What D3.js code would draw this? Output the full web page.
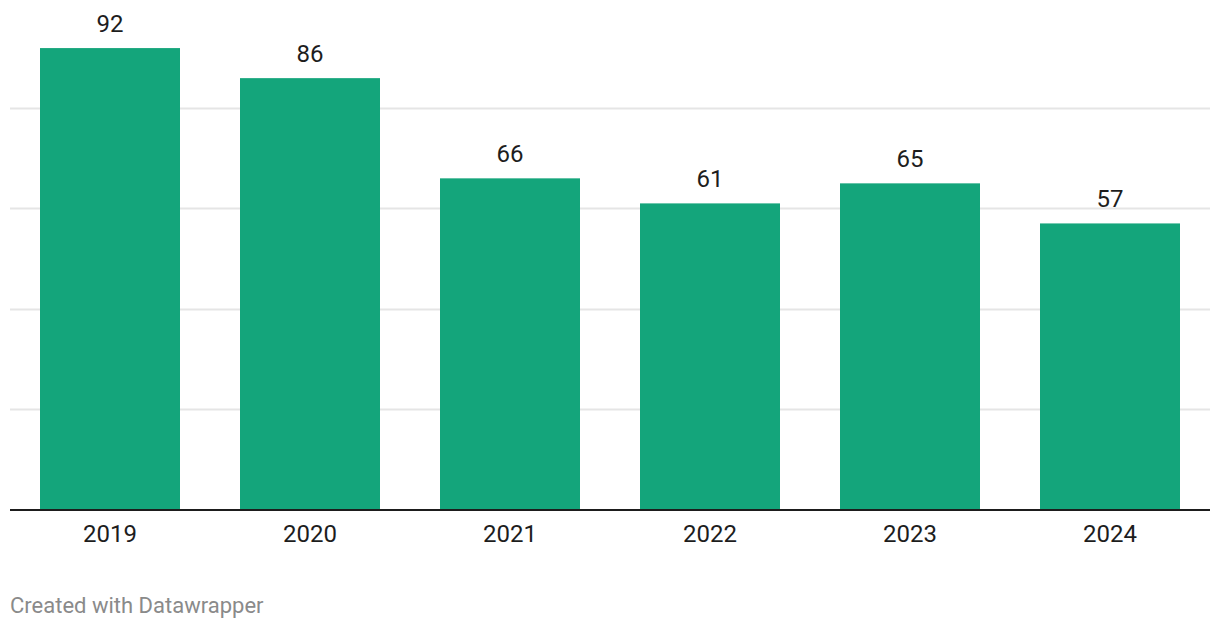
<!DOCTYPE html>
<html>
<head>
<meta charset="utf-8">
<script src="https://cdn.jsdelivr.net/npm/d3@7"></script>
<style>
  html, body { margin: 0; padding: 0; background: #fff; }
  svg { display: block; font-family: Roboto, "Noto Sans", sans-serif; }
</style>
</head>
<body>
<svg id="chart" width="1220" height="630"></svg>
<script>
const categories = ["2019", "2020", "2021", "2022", "2023", "2024"];
const values = [92, 86, 66, 61, 65, 57];
const gridTicks = [20, 40, 60, 80];
const footerText = "Created with Datawrapper";

const svg = d3.select("#chart");
const left = 10, right = 1210, baseY = 509, topY = 8;

const x = d3.scaleBand().domain(categories).range([left, right]).paddingInner(0.3).paddingOuter(0.15);
const y = d3.scaleLinear().domain([0, 100]).range([baseY, topY]);

// gridlines
svg.append("g").selectAll("line").data(gridTicks).join("line")
  .attr("x1", left).attr("x2", right)
  .attr("y1", d => Math.round(y(d)) + 0.5).attr("y2", d => Math.round(y(d)) + 0.5)
  .attr("stroke", "#e5e5e5").attr("stroke-width", 2);

// bars
svg.append("g").selectAll("rect").data(values).join("rect")
  .attr("x", (d, i) => x(categories[i]))
  .attr("width", x.bandwidth())
  .attr("y", d => y(d))
  .attr("height", d => y(0) - y(d))
  .attr("fill", "#14a57b");

// value labels
svg.append("g").selectAll("text").data(values).join("text")
  .attr("x", (d, i) => x(categories[i]) + x.bandwidth() / 2)
  .attr("y", d => y(d) - 16)
  .attr("text-anchor", "middle")
  .attr("font-size", 24)
  .attr("fill", "#1d1d1d")
  .text(d => d);

// baseline
svg.append("line")
  .attr("x1", left).attr("x2", right)
  .attr("y1", baseY + 1).attr("y2", baseY + 1)
  .attr("stroke", "#1d1d1d").attr("stroke-width", 2);

// x axis labels
const xAxis = d3.axisBottom(x).tickSize(0).tickPadding(0);
const gx = svg.append("g").attr("transform", `translate(0,${baseY})`).call(xAxis);
gx.select(".domain").remove();
gx.selectAll("text")
  .attr("dy", null)
  .attr("y", 33)
  .attr("font-size", 24)
  .attr("font-family", "Roboto, sans-serif")
  .attr("fill", "#1d1d1d");

// footer
svg.append("text")
  .attr("x", 10).attr("y", 613)
  .attr("font-size", 22)
  .attr("fill", "#8a8a8a")
  .text(footerText);
</script>
</body>
</html>
